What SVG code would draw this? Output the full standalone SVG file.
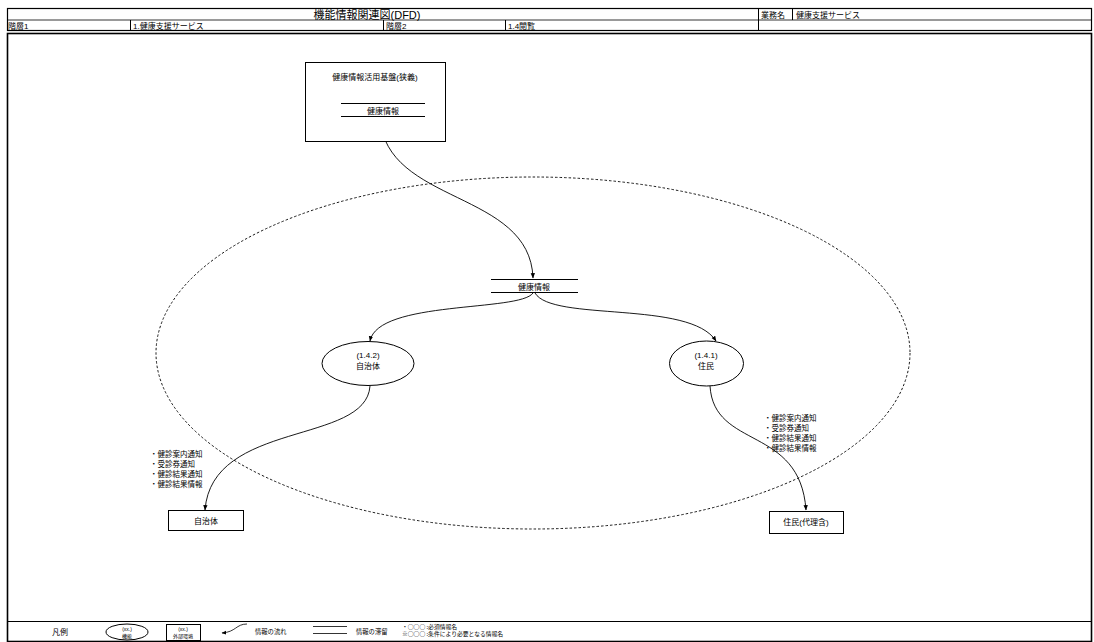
<svg xmlns="http://www.w3.org/2000/svg" width="1094" height="642" viewBox="0 0 1094 642">
<defs>
<marker id="ah" viewBox="0 0 10 10" refX="9" refY="5" markerWidth="6" markerHeight="6" orient="auto-start-reverse"><path d="M0,1 L10,5 L0,9 z" fill="#000"/></marker>
<style>
text{font-family:"Liberation Sans","Noto Sans CJK JP",sans-serif;fill:#000}
.t8{font-size:8px}
.t7{font-size:7.5px}
.t5{font-size:5px}
.lg{font-size:6.3px;font-family:"Noto Sans CJK JP",sans-serif}
.ls{font-size:5.8px;font-family:"Noto Sans CJK JP",sans-serif}
.c{text-anchor:middle}
.ln{fill:none;stroke:#000;stroke-width:1}
.fr{fill:#fff;stroke:#000;stroke-width:1}
.cv{fill:none;stroke:#000;stroke-width:0.9;marker-end:url(#ah)}
</style>
</defs>
<rect width="1094" height="642" fill="#fff"/>
<g id="header">
<rect x="7.5" y="8.5" width="1084" height="22" fill="none" stroke="#000" stroke-width="1.2"/>
<line x1="7.5" y1="20" x2="1091.5" y2="20" stroke="#000" stroke-width="0.8"/>
<line x1="758.5" y1="8.5" x2="758.5" y2="31" stroke="#000"/>
<line x1="792.5" y1="8.5" x2="792.5" y2="20" stroke="#000"/>
<line x1="130.5" y1="20" x2="130.5" y2="31" stroke="#000"/>
<line x1="383.5" y1="20" x2="383.5" y2="31" stroke="#000"/>
<line x1="505.5" y1="20" x2="505.5" y2="31" stroke="#000"/>
<text x="367" y="18.5" class="c" font-size="11">機能情報関連図(DFD)</text>
<text x="761" y="17.5" class="t8">業務名</text>
<text x="796" y="17.5" class="t8">健康支援サービス</text>
<text x="8" y="28.5" class="t8">階層1</text>
<text x="133" y="28.5" class="t8">1.健康支援サービス</text>
<text x="386" y="28.5" class="t8">階層2</text>
<text x="508" y="28.5" class="t8">1.4閲覧</text>
</g>
<g id="frame">
<rect x="7.5" y="33.5" width="1084" height="608" fill="none" stroke="#000" stroke-width="1.6"/>
<line x1="7.5" y1="621.5" x2="1091.5" y2="621.5" stroke="#000" stroke-width="1.2"/>
</g>
<g id="boundary">
<ellipse cx="533" cy="353" rx="377" ry="176" fill="none" stroke="#000" stroke-width="0.9" stroke-dasharray="2.5,2"/>
</g>
<g id="connectors">
<path class="cv" d="M380,118 C386,205 530,190 533,278"/>
<path class="cv" d="M533,293 C520,312 378,300 370,341"/>
<path class="cv" d="M535,293 C552,322 690,300 716,341"/>
<path class="cv" d="M370,386 C366,445 212,420 205,510"/>
<path class="cv" d="M710,386 C714,450 800,425 806,510"/>
</g>
<g id="store-top">
<rect x="305.5" y="62.5" width="140" height="79" class="fr"/>
<text x="375" y="80" class="c t8">健康情報活用基盤(狭義)</text>
<line x1="341" y1="103.5" x2="425" y2="103.5" stroke="#000"/>
<line x1="341" y1="116.5" x2="425" y2="116.5" stroke="#000"/>
<text x="383" y="113.5" class="c t8">健康情報</text>
</g>
<g id="store-center">
<line x1="491" y1="279.5" x2="578" y2="279.5" stroke="#000"/>
<line x1="491" y1="292.5" x2="578" y2="292.5" stroke="#000"/>
<text x="534" y="289.5" class="c t8">健康情報</text>
</g>
<g id="proc-1-4-2">
<ellipse cx="368" cy="363.5" rx="46" ry="22" class="fr"/>
<text x="368" y="358" class="c t8">(1.4.2)</text>
<text x="368" y="369" class="c t8">自治体</text>
</g>
<g id="proc-1-4-1">
<ellipse cx="706.5" cy="363.5" rx="37" ry="22.5" class="fr"/>
<text x="706" y="358" class="c t8">(1.4.1)</text>
<text x="706" y="369" class="c t8">住民</text>
</g>
<g id="ext-jichitai">
<rect x="168.5" y="510.5" width="75" height="20" class="fr"/>
<text x="206" y="523.5" class="c t8">自治体</text>
</g>
<g id="ext-jumin">
<rect x="769.5" y="511.5" width="74" height="22" class="fr"/>
<text x="806" y="525" class="c t8">住民(代理含)</text>
</g>
<g id="labels">
<text x="150" y="457" class="t7">・健診案内通知</text>
<text x="150" y="467" class="t7">・受診券通知</text>
<text x="150" y="477" class="t7">・健診結果通知</text>
<text x="150" y="487" class="t7">・健診結果情報</text>
<text x="764" y="421" class="t7">・健診案内通知</text>
<text x="764" y="431" class="t7">・受診券通知</text>
<text x="764" y="441" class="t7">・健診結果通知</text>
<text x="764" y="451" class="t7">・健診結果情報</text>
</g>
<g id="legend">
<text x="52" y="635" class="t8">凡例</text>
<ellipse cx="127" cy="632" rx="21" ry="8" class="fr"/>
<text x="127" y="631" class="c t5">(xx.)</text>
<text x="127" y="638" class="c t5">機能</text>
<rect x="166.5" y="624.5" width="34" height="16" class="fr"/>
<text x="183" y="630.5" class="c t5">(xx.)</text>
<text x="183" y="637.5" class="c t5">外部環境</text>
<path d="M247,624 C236,624 236,632 222,633" fill="none" stroke="#000" stroke-width="0.8" marker-end="url(#ah)"/>
<text x="255" y="634" class="lg">情報の流れ</text>
<line x1="313" y1="626.5" x2="347" y2="626.5" stroke="#000" stroke-width="0.8"/>
<line x1="313" y1="633.5" x2="347" y2="633.5" stroke="#000" stroke-width="0.8"/>
<text x="356" y="634" class="lg">情報の滞留</text>
<text x="402" y="628.5" class="ls">・○○○ :必須情報名</text>
<text x="402" y="635.8" class="ls">※○○○ :条件により必要となる情報名</text>
</g>
</svg>
